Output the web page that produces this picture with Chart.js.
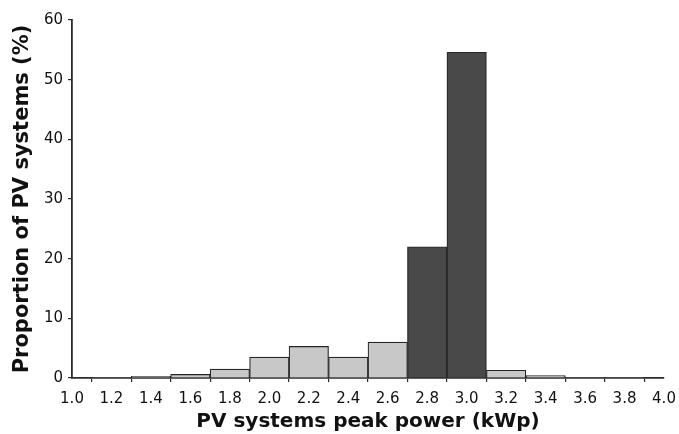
<!DOCTYPE html>
<html>
<head>
<meta charset="utf-8">
<script src="https://cdn.jsdelivr.net/npm/chart.js@4"></script>
<style>
  html, body { margin: 0; padding: 0; background: #fff; }
  #wrap { width: 679px; height: 434px; }
</style>
</head>
<body>
<div id="wrap"><canvas id="pv"></canvas></div>
<script>
// peak power bins (kWp, bin centre) and share of systems (%)
const bins = [1.2, 1.4, 1.6, 1.8, 2.0, 2.2, 2.4, 2.6, 2.8, 3.0, 3.2, 3.4, 3.6, 3.8]
const share = [0.1, 0.3, 0.6, 1.5, 3.5, 5.3, 3.5, 6.0, 22.0, 54.6, 1.3, 0.4, 0.1, 0.1]
const highlighted = [2.8, 3.0]
const xTicks = [1.0, 1.2, 1.4, 1.6, 1.8, 2.0, 2.2, 2.4, 2.6, 2.8, 3.0, 3.2, 3.4, 3.6, 3.8, 4.0]
const yTicks = [0, 10, 20, 30, 40, 50, 60]

const axisColor = '#2a2a2a'
const tickFont = { family: 'DejaVu Sans', size: 15 }

const barColors = bins.map(b => highlighted.includes(b) ? '#494949' : '#c8c8c8')

new Chart(document.getElementById('pv'), {
  type: 'bar',
  data: {
    datasets: [{
      data: bins.map((b, i) => ({ x: b, y: share[i] })),
      backgroundColor: barColors,
      borderColor: '#262626',
      borderWidth: 1.2,
      categoryPercentage: 1,
      barPercentage: 1
    }]
  },
  options: {
    responsive: true,
    maintainAspectRatio: false,
    animation: false,
    layout: { padding: { top: 20, right: 15, left: 0, bottom: 0 } },
    plugins: { legend: { display: false }, tooltip: { enabled: false } },
    scales: {
      x: {
        type: 'linear',
        offset: false,
        min: 1.0,
        max: 4.0,
        afterBuildTicks: s => { s.ticks = xTicks.map(v => ({ value: v })) },
        afterFit: s => {
          s.height = 56
          s.paddingLeft = 0
          s.paddingRight = 0
        },
        grid: { drawOnChartArea: false, drawTicks: true, tickLength: 4, color: axisColor, lineWidth: 1.2 },
        border: { display: true, color: axisColor, width: 1.8 },
        ticks: {
          color: '#111',
          font: tickFont,
          padding: 8,
          maxRotation: 0,
          autoSkip: false,
          callback: v => Number(v).toFixed(1)
        },
        title: {
          display: true,
          text: 'PV systems peak power (kWp)',
          color: '#111',
          font: { family: 'DejaVu Sans', size: 20, weight: 'bold' },
          padding: { top: 0, bottom: 0 }
        }
      },
      y: {
        min: 0,
        max: 60,
        afterBuildTicks: s => { s.ticks = yTicks.map(v => ({ value: v })) },
        afterFit: s => { s.width = 72 },
        grid: { drawOnChartArea: false, drawTicks: true, tickLength: 4, color: axisColor, lineWidth: 1.2 },
        border: { display: true, color: axisColor, width: 1.8 },
        ticks: { color: '#111', font: tickFont, padding: 5 },
        title: {
          display: true,
          text: 'Proportion of PV systems (%)',
          color: '#111',
          font: { family: 'DejaVu Sans', size: 21, weight: 'bold' },
          padding: { top: 10, bottom: 0 }
        }
      }
    }
  }
})
</script>
</body>
</html>
